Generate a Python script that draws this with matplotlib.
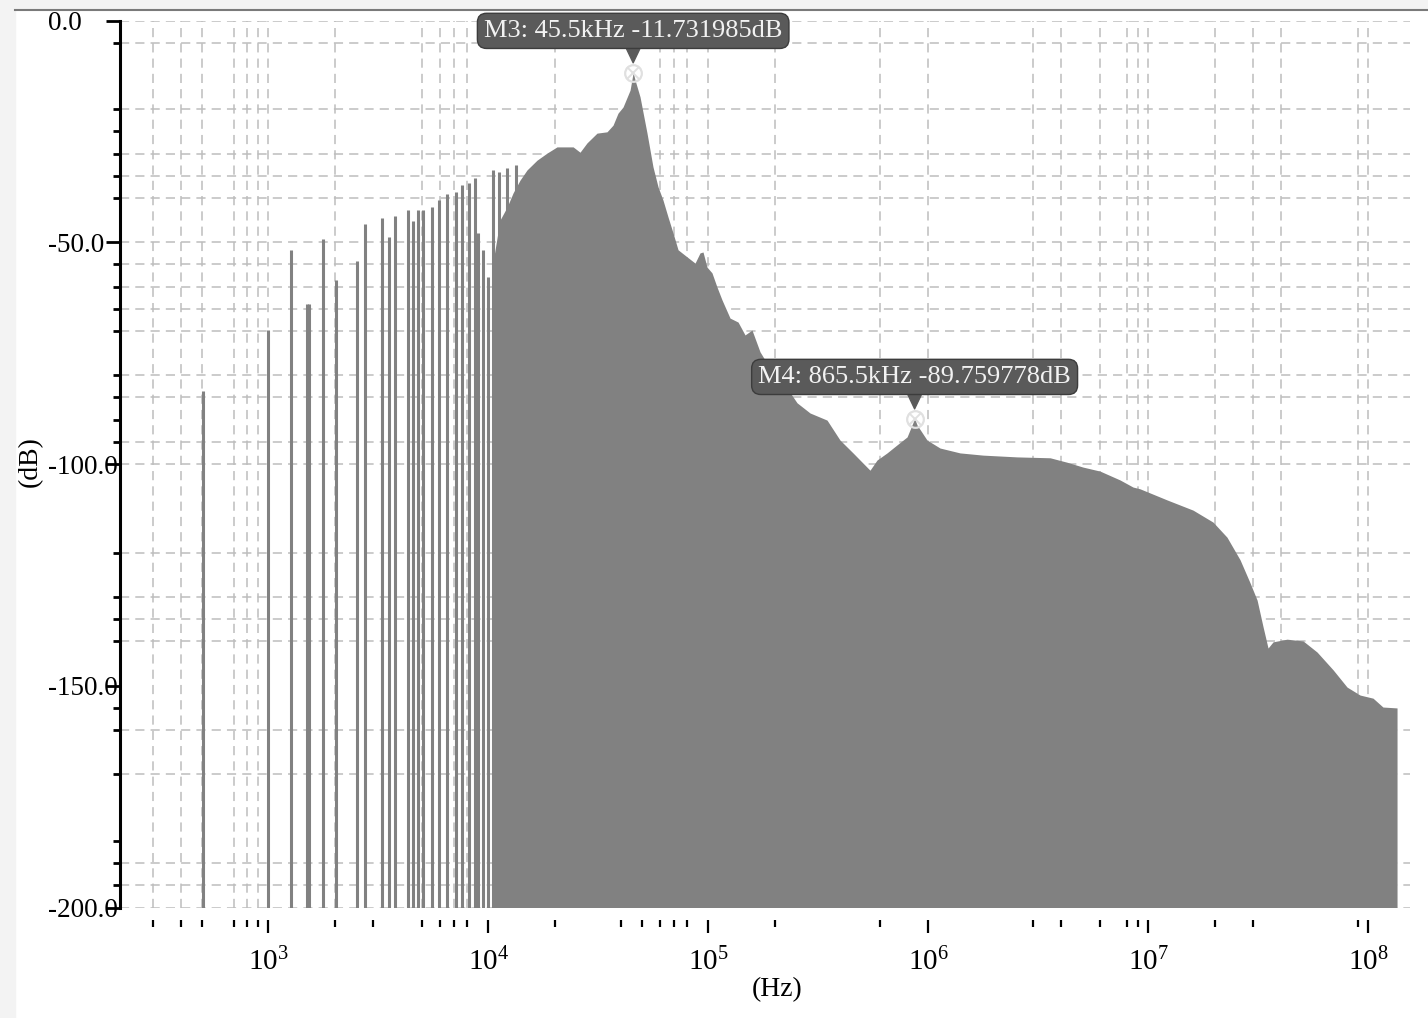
import numpy as np
import matplotlib.pyplot as plt
from matplotlib.ticker import FixedLocator, LogLocator, NullFormatter, FixedFormatter
from matplotlib.patches import Rectangle

plt.rcParams['font.family'] = ['Liberation Serif', 'DejaVu Serif']
plt.rcParams['mathtext.fontset'] = 'custom'
plt.rcParams['mathtext.rm'] = 'Liberation Serif'
plt.rcParams['mathtext.it'] = 'Liberation Serif:italic'

# discrete spectral lines below ~13 kHz
spike_freq = [505, 1000, 1263, 1505, 1530, 1765, 2030, 2535, 2757, 3273, 3543, 3763,
              4296, 4556, 4801, 5058, 5521, 5943, 6463, 7124, 7560, 8187, 8690, 8970,
              9484, 9998, 10493, 11170, 12150, 13350]
spike_db = [-83.5, -69.8, -51.7, -63.9, -63.9, -49.3, -58.5, -54.2, -45.9, -44.6, -48.9, -44.0,
            -42.7, -45.2, -42.7, -42.7, -42.1, -40.5, -39.2, -38.6, -37.1, -36.7, -35.6, -47.9,
            -51.7, -57.8, -33.7, -34.2, -33.3, -32.6]

# continuous spectrum envelope
spec_freq = [10493, 11290, 12150, 12940, 13920, 14980, 16630, 18470, 20500, 24270, 26090, 28060,
             31160, 34600, 36860, 38820, 40930, 44050, 45500, 46390, 48880, 52600, 55990, 59020,
             62170, 65530, 69050, 72780, 79980, 86960, 91600, 94520, 98540, 103800, 109400, 115300,
             125400, 136400, 146700, 157800, 171600, 190500, 222900, 252800, 289700, 346000, 396300,
             454100, 504300, 542600, 584100, 648600, 719600, 799800, 865500, 887900, 985400,
             1129000, 1392000, 1771000, 2529000, 3573000, 4266000, 5044000, 6026000, 7430000,
             8511000, 9162000, 12150000, 15950000, 19660000, 22750000, 26090000, 28970000,
             31190000, 33190000, 34970000, 36860000, 42660000, 50470000, 58400000, 69050000,
             79940000, 91620000, 104900000, 116400000, 134900000]
spec_db = [-54.5, -45.0, -42.1, -38.9, -36.0, -33.7, -31.5, -29.9, -28.5, -28.5, -29.7, -27.6,
           -25.4, -25.1, -23.6, -20.9, -19.5, -15.7, -11.73, -13.4, -17.2, -25.4, -33.0, -37.5,
           -40.5, -44.3, -47.9, -51.7, -53.3, -54.7, -52.4, -52.2, -55.6, -56.9, -60.1, -63.0,
           -67.1, -68.0, -70.9, -69.8, -74.7, -78.4, -82.2, -86.2, -88.5, -90.1, -94.6,
           -97.5, -99.8, -101.4, -99.1, -97.5, -95.7, -93.9, -89.76, -91.2, -94.6,
           -96.4, -97.5, -98.0, -98.4, -98.6, -99.6, -100.7, -101.6, -103.6,
           -105.2, -105.6, -108.1, -110.4, -113.1, -116.5, -121.6, -126.8,
           -130.7, -136.7, -141.5, -140.1, -139.5, -139.9, -142.4, -146.4,
           -150.3, -152.1, -152.8, -154.8, -155.0]

markers = ["M3", "M4"]
marker_freq = [45500, 865500]
marker_db = [-11.731985, -89.759778]
marker_text = ["M3: 45.5kHz -11.731985dB", "M4: 865.5kHz -89.759778dB"]

y_major = [0, -50, -100, -150, -200]
y_labels = ["0.0", "-50.0", "-100.0", "-150.0", "-200.0"]
y_grid = [0, -5, -20, -30, -35, -40, -50, -55, -60, -65, -70, -80, -85, -95, -100,
          -120, -130, -135, -140, -160, -170, -190, -195, -200]
y_minor = y_grid + [-25, -90, -155, -185]
x_minor = [300, 400, 500, 700, 800, 900, 2e3, 3e3, 5e3, 6e3, 7e3, 8e3,
           2e4, 4e4, 5e4, 6e4, 7e4, 8e4, 2e5, 6e5, 3e6, 4e6, 6e6, 8e6, 9e6,
           2e7, 3e7, 9e7]
x_grid = [300, 400, 500, 700, 800, 900, 1e3, 2e3, 5e3, 6e3, 7e3, 8e3, 2e4, 6e4, 7e4, 8e4,
          1e5, 2e5, 6e5, 1e6, 3e6, 4e6, 6e6, 8e6, 9e6, 1e7, 2e7, 3e7, 4e7, 9e7, 1e8]

fig = plt.figure(figsize=(14.28, 10.18), dpi=100)
fig.patches.append(Rectangle((0, 0), 15 / 1428, 1, transform=fig.transFigure,
                             color='#f3f3f3', zorder=-5))
fig.patches.append(Rectangle((0, 1 - 9 / 1018), 1, 9 / 1018, transform=fig.transFigure,
                             color='#f3f3f3', zorder=-5))
fig.lines.append(plt.Line2D([15 / 1428, 1], [1 - 9.5 / 1018] * 2, transform=fig.transFigure,
                            color='#7a7a7a', lw=1.5))

ax = fig.add_axes([120 / 1428, 1 - 907.5 / 1018, 1290 / 1428, 887 / 1018])
ax.set_xscale('log')
ax.set_xlim(211.6, 1.545e8)
ax.set_ylim(-200, 0)

grid_kw = dict(color='#bdbdbd', lw=1.1, ls=(0, (6, 4)), zorder=0)
for g in y_grid:
    ax.axhline(g, **grid_kw)
for g in x_grid:
    ax.axvline(g, **grid_kw)

gray = '#818181'
ax.vlines(spike_freq, -200, spike_db, color=gray, lw=2.2, zorder=2)
ax.fill_between(spec_freq, spec_db, -200, color=gray, lw=0, zorder=2)

for f, d, t in zip(marker_freq, marker_db, marker_text):
    ax.plot(f, d, marker='o', ms=12, mfc='none', mec='#e0e0e0', mew=1.6, zorder=5)
    ax.plot(f, d, marker='x', ms=8, mec='#e0e0e0', mew=1.4, zorder=5)
    ax.annotate(t, xy=(f, d), xytext=(0, 30), textcoords='offset points',
                ha='center', va='center', color='#f2f2f2', fontsize=19, zorder=6,
                bbox=dict(boxstyle='round,pad=0.25,rounding_size=0.35', fc='#5a5a5a', ec='#3c3c3c', lw=1),
                arrowprops=dict(arrowstyle='wedge,tail_width=0.5', fc='#5a5a5a', ec='#5a5a5a',
                                shrinkA=0, shrinkB=7))

for s in ['top', 'right', 'bottom']:
    ax.spines[s].set_visible(False)
ax.spines['left'].set_linewidth(2.2)
ax.spines['bottom'].set_position(('outward', 9))

ax.yaxis.set_major_locator(FixedLocator(y_major))
ax.yaxis.set_major_formatter(FixedFormatter(y_labels))
ax.yaxis.set_minor_locator(FixedLocator(y_minor))
ax.tick_params(axis='y', which='major', length=10, width=2, labelsize=19.5, pad=42)
ax.tick_params(axis='y', which='minor', length=5, width=2)
for lab in ax.get_yticklabels():
    lab.set_horizontalalignment('left')

ax.xaxis.set_major_locator(LogLocator(base=10, numticks=20))
ax.xaxis.set_minor_locator(FixedLocator(x_minor))
ax.xaxis.set_minor_formatter(NullFormatter())
ax.tick_params(axis='x', which='major', length=9, width=1.6, labelsize=21, pad=11)
ax.tick_params(axis='x', which='minor', length=5, width=1.6)

fig.text(30 / 1428, 1 - 462 / 1018, "(dB)", rotation=90, ha='center', va='center', fontsize=20)
fig.text(777 / 1428, 1 - 990 / 1018, "(Hz)", ha='center', va='center', fontsize=20)

fig.savefig('out.png', dpi=100)
